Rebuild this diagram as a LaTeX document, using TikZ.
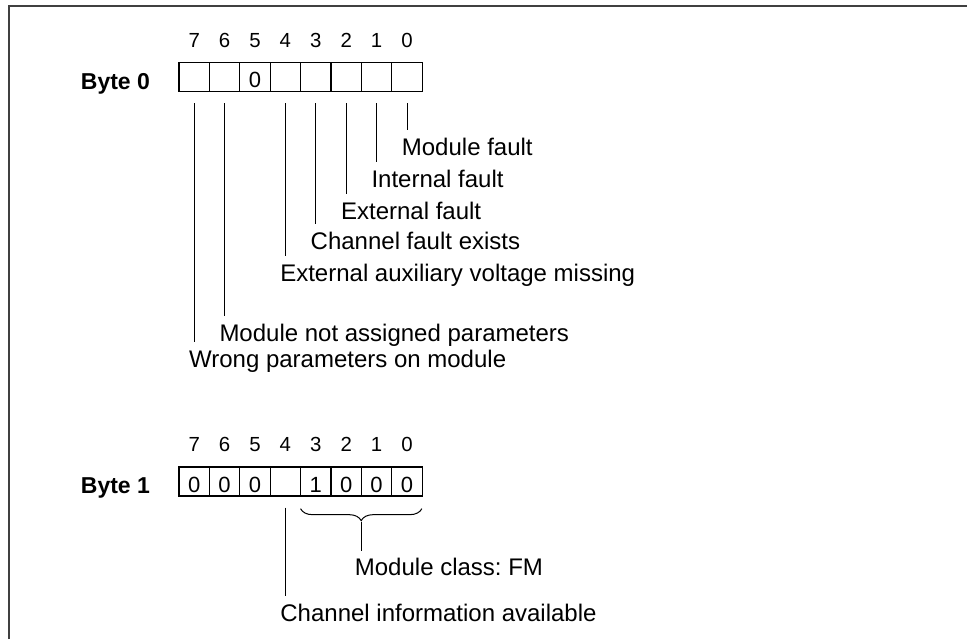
\documentclass[tikz,border=0pt]{standalone}
\usepackage{fontspec}
\setmainfont{Liberation Sans}
\frenchspacing
\usetikzlibrary{positioning, calc, decorations.pathreplacing}
\tikzset{
    bitcell/.style  ={rectangle, draw=black, line width=0.65pt, minimum width=15.2pt, minimum height=14.5pt, inner sep=0pt, text height=10.8pt, font=\fontsize{11}{12}\selectfont},
    bitnum/.style   ={inner sep=0pt, font=\fontsize{10.2}{12}\selectfont},
    bytelabel/.style={inner sep=0pt, anchor=base east, font=\fontsize{11.5}{13}\selectfont\bfseries},
    bitlabel/.style ={inner sep=0pt, anchor=base west, text height=8.6pt, font=\fontsize{12}{14}\selectfont},
    leader/.style   ={line width=0.5pt, shorten <=5.5pt, shorten >=3.9pt},
    bracket/.style  ={line width=0.5pt, decorate, decoration={brace, mirror, amplitude=6pt}},
    frameline/.style={line width=1pt, draw=black!75},
}

\begin{document}
\begin{tikzpicture}[x=0.5pt, y=-0.5pt]
        \useasboundingbox (0,0) rectangle (967,639);
        % frame
        \draw[frameline] (8.5,639) -- (8.5,6) -- (967,6);
        % byte 0
        \foreach \b/\v [count=\k from 0] in {7/,6/,5/0,4/,3/,2/,1/,0/}
            \node[bitcell] (a\b) at (194.2+30.4*\k, 77) {\v};
        \foreach \b in {7,...,0}
            \node[bitnum, above=7pt of a\b] (na\b) {\b};
        \node[bytelabel] (byte0) at ([xshift=-14pt, yshift=1.5pt]a7.south west) {Byte 0};
        \node[bitlabel] (la0) at (401.5,155) {Module fault};
        \node[bitlabel] (la1) at (371.1,187) {Internal fault};
        \node[bitlabel] (la2) at (340.7,219.5) {External fault};
        \node[bitlabel] (la3) at (310.3,249.5) {Channel fault exists};
        \node[bitlabel] (la4) at (279.9,281) {External auxiliary voltage missing};
        \node[bitlabel] (la6) at (219.1,341) {Module not assigned parameters};
        \node[bitlabel] (la7) at (188.7,367) {Wrong parameters on module};
        \foreach \b in {0,1,2,3,4,6,7}
            \draw[leader] (a\b.south) -- (a\b.south |- la\b.north);
        % byte 1
        \foreach \b/\v [count=\k from 0] in {7/0,6/0,5/0,4/,3/1,2/0,1/0,0/0}
            \node[bitcell] (b\b) at (194.2+30.4*\k, 481.5) {\v};
        \foreach \b in {7,...,0}
            \node[bitnum, above=7pt of b\b] (nb\b) {\b};
        \node[bytelabel] (byte1) at ([xshift=-14pt, yshift=1.5pt]b7.south west) {Byte 1};
        \node[bitlabel] (lb4) at (280,621) {Channel information available};
        \draw[leader] (b4.south) -- (b4.south |- lb4.north);
        % module class
        \draw[bracket] ([xshift=0.3pt, yshift=-6pt]b3.south west) -- ([xshift=-0.5pt, yshift=-6pt]b0.south east);
        \coordinate (tip) at ($(b3.south west)!0.5!(b0.south east) + (0,24)$);
        \node[bitlabel] (cls) at (354.5,575) {Module class: FM};
        \draw[line width=0.5pt, shorten <=0.5pt, shorten >=3pt] (tip) -- (tip |- cls.north);
\end{tikzpicture}
\end{document}
